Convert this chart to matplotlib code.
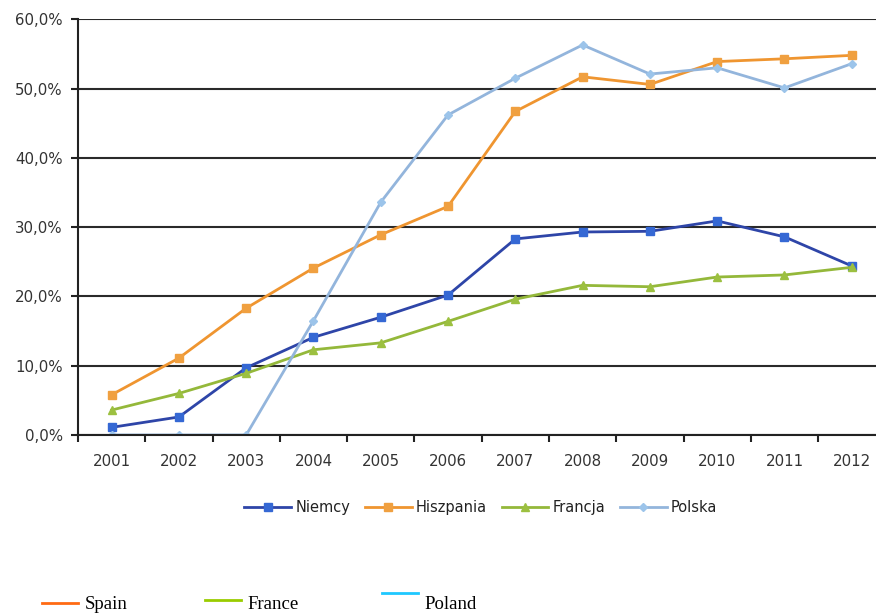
import matplotlib.pyplot as plt
from matplotlib.lines import Line2D
from matplotlib.ticker import FuncFormatter, FixedLocator

# data (percent)
years = ["2001", "2002", "2003", "2004", "2005", "2006",
         "2007", "2008", "2009", "2010", "2011", "2012"]
niemcy = [1.1, 2.6, 9.7, 14.1, 17.0, 20.2, 28.3, 29.3, 29.4, 30.9, 28.6, 24.4]
hiszpania = [5.8, 11.1, 18.3, 24.1, 28.9, 33.0, 46.7, 51.7, 50.6, 53.9, 54.3, 54.8]
francja = [3.6, 6.0, 8.9, 12.3, 13.3, 16.4, 19.6, 21.6, 21.4, 22.8, 23.1, 24.2]
polska = [0.0, 0.0, 0.0, 16.5, 33.6, 46.2, 51.5, 56.3, 52.1, 53.0, 50.1, 53.6]

# english captions under the chart
caption_names = ["Spain", "France", "Poland"]
caption_colors = ["#ff6a13", "#99cc00", "#1ec8ff"]

fig = plt.figure(figsize=(8.76, 6.15), dpi=100)
ax = fig.add_axes([0.089, 0.2927, 0.911, 0.6759])

x = range(len(years))
ax.plot(x, niemcy, color="#2e45a8", lw=2, marker="s", ms=6,
        mfc="#3568d4", mec="#3568d4", label="Niemcy")
ax.plot(x, hiszpania, color="#ef9530", lw=2, marker="s", ms=6,
        mfc="#f0a040", mec="#f0a040", label="Hiszpania")
ax.plot(x, francja, color="#94b83a", lw=2, marker="^", ms=6,
        mfc="#9cc040", mec="#9cc040", label="Francja")
ax.plot(x, polska, color="#93b5dc", lw=2, marker="D", ms=4,
        mfc="#9cc4ea", mec="#9cc4ea", label="Polska")

ax.set_ylim(0, 60)
ax.set_xlim(-0.5, 11.36)
ax.set_yticks(range(0, 61, 10))
ax.yaxis.set_major_formatter(FuncFormatter(lambda v, p: f"{v:.1f}%".replace(".", ",")))
ax.set_xticks(list(x))
ax.set_xticklabels(years)
ax.xaxis.set_minor_locator(FixedLocator([i - 0.5 for i in range(13)]))
ax.tick_params(axis="x", which="major", length=0, pad=14, labelsize=10.8, labelcolor="#333333")
ax.tick_params(axis="x", which="minor", length=5, width=1.5, direction="out", color="#222222")
ax.tick_params(axis="y", length=5, width=1.5, pad=6, labelsize=10.8, labelcolor="#333333", color="#222222")

ax.grid(axis="y", color="#2a2a2a", lw=1.5)
ax.set_axisbelow(True)
for side in ["top", "right"]:
    ax.spines[side].set_visible(False)
for side in ["left", "bottom"]:
    ax.spines[side].set_linewidth(1.5)
    ax.spines[side].set_color("#222222")

ax.legend(loc="upper center", bbox_to_anchor=(0.505, -0.125), ncol=4, frameon=False,
          fontsize=10.5, handlelength=3.2, handletextpad=0.3, columnspacing=1.0,
          labelcolor="#222222")

# caption row with coloured lines
cap_x = [0.048, 0.234, 0.436]
cap_y = [0.019, 0.024, 0.036]
for cx, cy, name, col in zip(cap_x, cap_y, caption_names, caption_colors):
    fig.add_artist(Line2D([cx, cx + 0.041], [cy, cy], color=col, lw=2))
    fig.text(cx + 0.049, 0.009, name, family="Liberation Serif", fontsize=13.5, color="black")

fig.savefig("out.png", dpi=100)
